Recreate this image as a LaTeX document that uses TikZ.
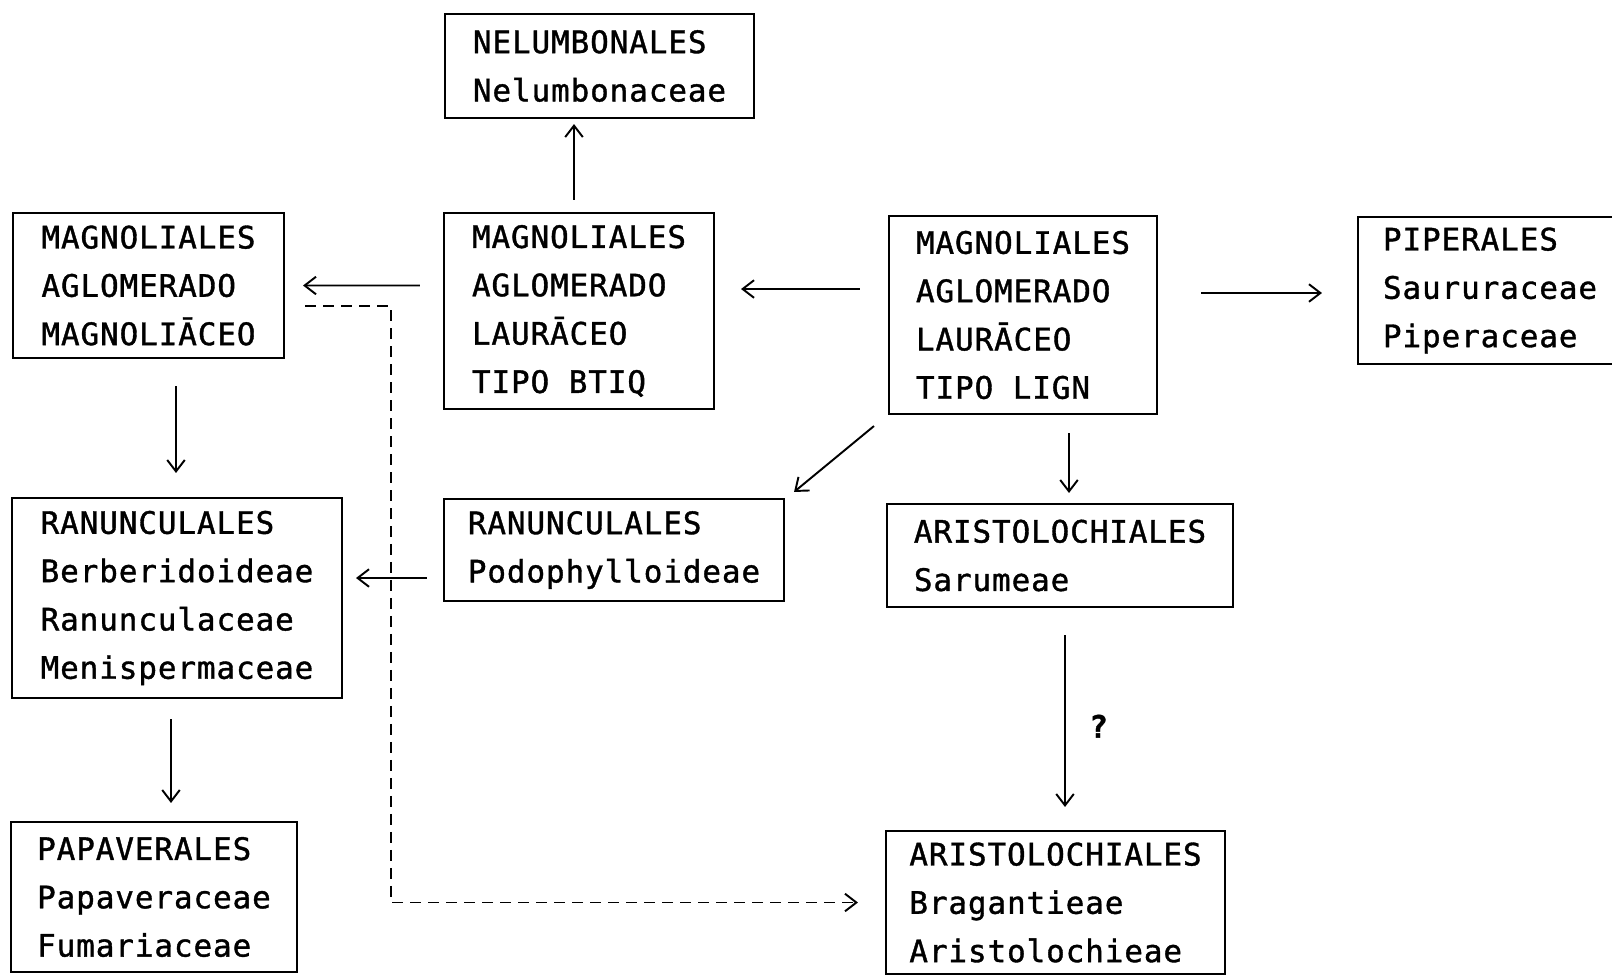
\documentclass[tikz,border=0pt]{standalone}
\usepackage{fontspec}
\newfontfamily\typewriter[LetterSpace=3, FakeBold=1.2]{DejaVu Sans Mono}
\usetikzlibrary{arrows.meta, calc}

\tikzset{
  taxon/.style={draw, line width=1.2pt, inner sep=0pt, align=left,
    font=\typewriter\fontsize{17.6}{27.5}\selectfont},
  link/.style={->, line width=1.1pt},
  dashlink/.style={->, line width=1.1pt, dash pattern=on 0.22cm off 0.14cm}
}

\begin{document}
\begin{tikzpicture}[x=0.02cm, y=-0.02cm, >={Straight Barb[length=6.5pt,width=10pt]}]
\useasboundingbox (0,0) rectangle (1612,975);

% boxes
\node[taxon, minimum width=6.18cm, minimum height=2.08cm] (nel) at (599.5,66) {NELUMBONALES\\Nelumbonaceae};
\node[taxon, minimum width=5.42cm, minimum height=2.9cm] (magA) at (148.5,285.5) {MAGNOLIALES\\AGLOMERADO\\MAGNOLIĀCEO};
\node[taxon, minimum width=5.4cm, minimum height=3.92cm] (magB) at (579,311) {MAGNOLIALES\\AGLOMERADO\\LAURĀCEO\\TIPO BTIQ};
\node[taxon, minimum width=5.36cm, minimum height=3.96cm] (magC) at (1023,315) {MAGNOLIALES\\AGLOMERADO\\LAURĀCEO\\TIPO LIGN};
\node[taxon, minimum width=5.28cm, minimum height=2.94cm] (pip) at (1490,290.5) {PIPERALES\\Saururaceae\\Piperaceae};
\node[taxon, minimum width=6.6cm, minimum height=4.0cm] (ranA) at (177,598) {RANUNCULALES\\Berberidoideae\\Ranunculaceae\\Menispermaceae};
\node[taxon, minimum width=6.8cm, minimum height=2.04cm] (ranB) at (614,550) {RANUNCULALES\\Podophylloideae};
\node[taxon, minimum width=6.92cm, minimum height=2.06cm] (ariA) at (1060,555.5) {ARISTOLOCHIALES\\Sarumeae};
\node[taxon, minimum width=5.72cm, minimum height=3.0cm] (pap) at (154,897) {PAPAVERALES\\Papaveraceae\\Fumariaceae};
\node[taxon, minimum width=6.78cm, minimum height=2.86cm] (bra) at (1055.5,902.5) {ARISTOLOCHIALES\\Bragantieae\\Aristolochieae};

% arrows
\draw[link] ($(magB.north)+(-5,-12)$) -- ($(nel.south)+(-25.5,5)$);
\draw[link] ($(magB.west)+(-23,-25.5)$) -- ($(magA.east)+(18,0)$);
\draw[link] ($(magC.west)+(-28,-26)$) -- ($(magB.east)+(26,-22)$);
\draw[link] ($(magC.east)+(43,-22)$) -- ($(pip.west)+(-35,2.5)$);
\draw[link] ($(magA.south)+(27.5,27)$) -- ($(ranA.north)+(-1,-24)$);
\draw[link] ($(magC.south west)+(-14,11)$) -- ($(ranB.north east)+(9,-6)$);
\draw[link] ($(magC.south)+(46,18)$) -- ($(ariA.north)+(9,-10)$);
\draw[link] ($(ranB.west)+(-16,28)$) -- ($(ranA.east)+(13,-20)$);
\draw[link] ($(ranA.south)+(-6,20)$) -- ($(pap.north)+(17,-18)$);
\draw[link] ($(ariA.south)+(5,27)$) -- node[pos=0.53, right=0.35cm, font=\typewriter\bfseries\fontsize{17.6}{20}\selectfont] (ask) {?} ($(bra.north)+(9.5,-23)$);

% dashed link
\draw[dashlink] ($(magA.east)+(20,20.5)$) -| ($(bra.west)+(-494,0)$) -- ($(bra.west)+(-27,0)$);
\end{tikzpicture}
\end{document}
